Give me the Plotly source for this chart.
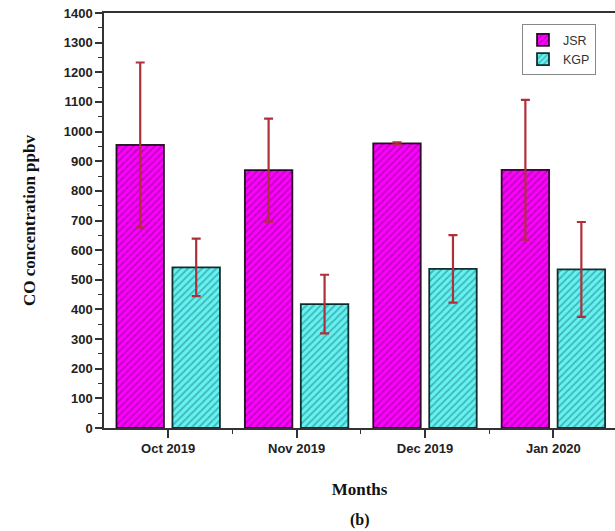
import plotly.graph_objects as go

# Monthly mean CO concentration (ppbv) with standard deviation
months = ["Oct 2019", "Nov 2019", "Dec 2019", "Jan 2020"]
jsr_mean = [955, 870, 960, 871]
jsr_sd = [278, 174, 4, 236]
kgp_mean = [542, 418, 537, 535]
kgp_sd = [97, 99, 114, 160]

x_pos = list(range(len(months)))
bar_w = 0.37
err_color = "#B0303A"

fig = go.Figure()
fig.add_trace(go.Bar(
    name="JSR", x=x_pos, y=jsr_mean, width=bar_w, offset=-0.403,
    marker=dict(color="#FF00FF",
                line=dict(color="rgba(20,0,20,0.9)", width=1.8),
                pattern=dict(shape="/", fgcolor="#7A0A7A", bgcolor="#FF00FF",
                             size=5, solidity=0.35)),
    error_y=dict(type="data", array=jsr_sd, visible=True,
                 color=err_color, thickness=2.2, width=4.5),
))
fig.add_trace(go.Bar(
    name="KGP", x=x_pos, y=kgp_mean, width=bar_w, offset=0.033,
    marker=dict(color="#66F2F2",
                line=dict(color="rgba(0,25,25,0.9)", width=1.8),
                pattern=dict(shape="/", fgcolor="#1C7A7A", bgcolor="#66F2F2",
                             size=5, solidity=0.35)),
    error_y=dict(type="data", array=kgp_sd, visible=True,
                 color=err_color, thickness=2.2, width=4.5),
))

tick_font = dict(family="Liberation Sans, Arial", size=13, color="#222222", weight="bold")
title_font = dict(family="Liberation Serif, Times New Roman", size=17, color="#111111", weight="bold")

fig.update_layout(
    width=615, height=531,
    margin=dict(l=104, r=0, t=13, b=103),
    paper_bgcolor="white", plot_bgcolor="white",
    barmode="overlay",
    showlegend=True,
    legend=dict(x=0.818, y=0.973, xanchor="left", yanchor="top",
                bgcolor="white", bordercolor="#888888", borderwidth=1,
                font=dict(family="Liberation Sans, Arial", size=12.5, color="#333333"),
                tracegroupgap=0, itemwidth=30),
    xaxis=dict(
        range=[-0.5, 3.48],
        tickvals=x_pos, ticktext=months,
        tickfont=tick_font,
        ticks="outside", ticklen=8, tickwidth=1.5, tickcolor="#333333",
        minor=dict(tickvals=[0.5, 1.5, 2.5], ticks="outside", ticklen=4,
                   tickwidth=1.2, tickcolor="#333333"),
        showline=True, linecolor="#333333", linewidth=1.5, mirror=True,
        showgrid=False, zeroline=False,
        title=dict(text="Months", font=title_font, standoff=28),
    ),
    yaxis=dict(
        range=[0, 1400], dtick=100,
        tickfont=tick_font,
        ticks="outside", ticklen=7, tickwidth=1.5, tickcolor="#333333",
        minor=dict(dtick=50, ticks="outside", ticklen=4, tickwidth=1.2,
                   tickcolor="#333333"),
        showline=True, linecolor="#333333", linewidth=1.5, mirror=False,
        showgrid=False, zeroline=False,
        title=dict(text="CO concentration ppbv", font=title_font, standoff=24),
    ),
    annotations=[dict(
        text="(b)", xref="paper", yref="paper", x=0.5, y=-0.222,
        xanchor="center", yanchor="middle", showarrow=False,
        font=dict(family="Liberation Serif, Times New Roman", size=16,
                  color="#111111", weight="bold"),
    )],
)

fig.write_html("out.html")
